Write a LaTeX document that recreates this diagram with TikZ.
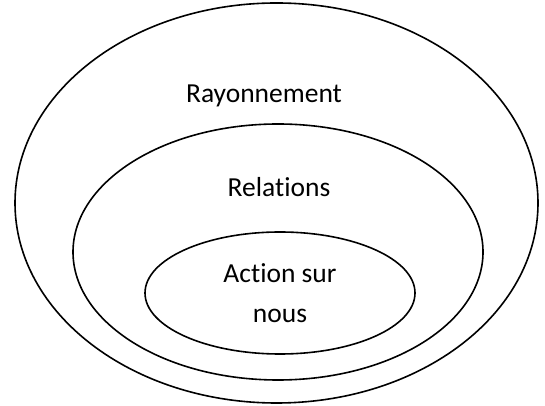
\documentclass[tikz,border=0pt]{standalone}
\usepackage{fontspec}
\setmainfont[Ligatures=NoCommon]{Carlito}
\begin{document}
\begin{tikzpicture}[x=1pt,y=1pt,
		lbl/.style={font=\fontsize{27.5}{40}\selectfont, inner sep=0pt},
		ring/.style={draw=black, line width=1.6pt}]
		\useasboundingbox (0,0) rectangle (545,406);
		\draw[ring] (276.5,203) ellipse (261.5 and 200);
		\draw[ring] (278,154) ellipse (205 and 128);
		\draw[ring] (280,113) ellipse (135 and 61);
		\node[lbl, anchor=base] (r) at (264,303) {Rayonnement};
		\node[lbl, anchor=base] (rel) at (279,209) {Relations};
		\node[lbl, anchor=base] (act) at (280,123) {Action sur};
		\node[lbl, anchor=base] (n) at (280,83) {nous};
	\end{tikzpicture}
\end{document}
